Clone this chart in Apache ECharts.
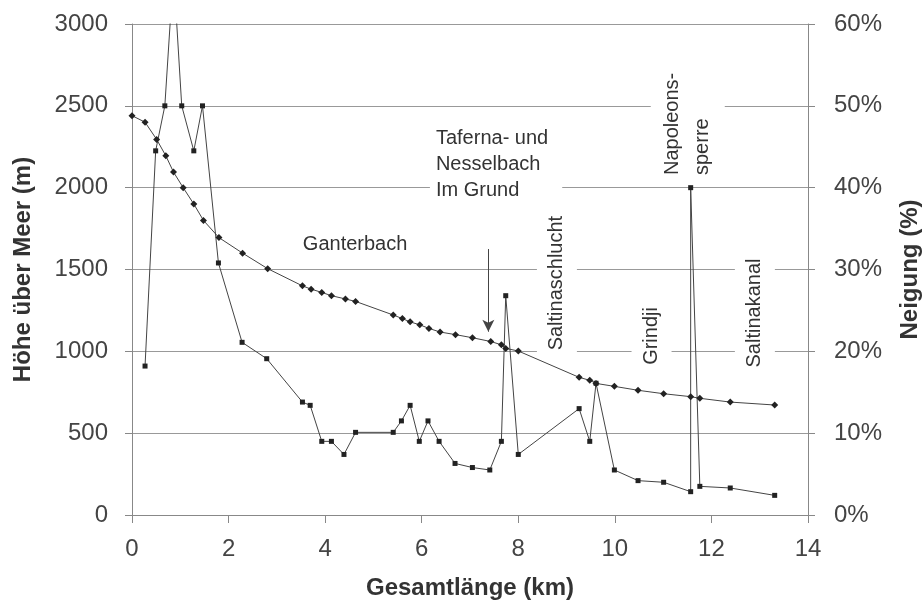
<!DOCTYPE html>
<html>
<head>
<meta charset="utf-8">
<script src="https://cdn.jsdelivr.net/npm/echarts@6/dist/echarts.min.js"></script>
<style>
	html, body { margin: 0; padding: 0; background: #fff; }
	#chart { width: 924px; height: 609px; }
</style>
</head>
<body>
<div id="chart"></div>
<script>
	// Gesamtlänge (km) der Messpunkte
	var distKm = [0, 0.27, 0.51, 0.70, 0.86, 1.06, 1.28, 1.48, 1.80, 2.29, 2.81,
		3.53, 3.71, 3.93, 4.13, 4.42, 4.63, 5.41, 5.60, 5.76, 5.96, 6.15, 6.38,
		6.70, 7.05, 7.43, 7.65, 7.74, 8.00, 9.26, 9.48, 9.61, 9.99, 10.48, 11.01,
		11.57, 11.76, 12.39, 13.31];
	// Höhe über Meer (m)
	var hoehe = [2440, 2400, 2295, 2195, 2095, 2000, 1900, 1800, 1695, 1600, 1505,
		1400, 1380, 1360, 1340, 1320, 1305, 1222, 1200, 1180, 1162, 1140, 1118,
		1102, 1083, 1060, 1040, 1018, 1002, 841, 823, 804, 786, 762, 741,
		723, 713, 690, 672];
	// Neigung (%)
	var neigDist = [0.27, 0.49, 0.68, 0.86, 1.03, 1.28, 1.46, 1.79, 2.28, 2.79,
		3.53, 3.69, 3.93, 4.13, 4.39, 4.63, 5.41, 5.58, 5.76, 5.95, 6.13, 6.36,
		6.69, 7.05, 7.41, 7.65, 7.74, 8.00, 9.26, 9.48, 9.61, 9.99, 10.48, 11.01,
		11.57, 11.57, 11.76, 12.39, 13.31];
	var neigung = [18.2, 44.5, 50, 66.5, 50, 44.5, 50, 30.8, 21.1, 19.1,
		13.8, 13.4, 9.0, 9.0, 7.4, 10.1, 10.1, 11.5, 13.4, 9.0, 11.5, 9.0,
		6.3, 5.8, 5.5, 9.0, 26.8, 7.4, 13.0, 9.0, 16.1, 5.5, 4.2, 4.0,
		2.85, 40, 3.5, 3.3, 2.4];

	// Beschriftungen: Text, Ankerpunkt (km, Höhe), gedreht, Ausrichtung
	var labelText = ['Ganterbach', 'Taferna- und\nNesselbach\nIm Grund', 'Saltinaschlucht', 'Grindji', 'Saltinakanal', 'Napoleons-\nsperre'];
	var labelKm = [4.62, 6.17, 8.80, 10.76, 12.90, 11.51];
	var labelHoehe = [1650, 2144, 1417, 1094, 1234, 2065];
	var labelRotated = [false, false, true, true, true, true];
	var labelAlign = ['center', 'left', 'center', 'center', 'center', 'left'];
	// Pfeil (km, von Höhe, bis Höhe)
	var arrowKm = 7.38, arrowFrom = 1625, arrowTo = 1120;

	var font = "'Liberation Sans', Arial, sans-serif";
	var chart = echarts.init(document.getElementById('chart'));

	var option = {
		animation: false,
		grid: { left: 132, right: 116, top: 24, bottom: 94, outerBoundsMode: 'none' },
		xAxis: {
			type: 'value', min: 0, max: 14, interval: 2,
			name: 'Gesamtlänge (km)', nameLocation: 'middle', nameGap: 61,
			nameTextStyle: { fontFamily: font, fontSize: 24, fontWeight: 'bold', color: '#333' },
			axisLine: { lineStyle: { color: '#888' } },
			axisTick: { length: 8, lineStyle: { color: '#888' } },
			axisLabel: { margin: 22, fontFamily: font, fontSize: 24, color: '#444' },
			splitLine: { show: false }
		},
		yAxis: [{
			type: 'value', min: 0, max: 3000, interval: 500, position: 'left',
			name: 'Höhe über Meer (m)', nameLocation: 'middle', nameGap: 97,
			nameTextStyle: { fontFamily: font, fontSize: 24, fontWeight: 'bold', color: '#333' },
			axisLine: { show: true, lineStyle: { color: '#888' } },
			axisTick: { show: true, length: 7, lineStyle: { color: '#888' } },
			axisLabel: { margin: 24, fontFamily: font, fontSize: 24, color: '#444',
				formatter: function (v) { return String(v); } },
			splitLine: { lineStyle: { color: '#999' } }
		}, {
			type: 'value', min: 0, max: 60, interval: 10, position: 'right',
			name: 'Neigung (%)', nameLocation: 'middle', nameGap: 90,
			nameTextStyle: { fontFamily: font, fontSize: 24, fontWeight: 'bold', color: '#333' },
			axisLine: { show: true, lineStyle: { color: '#888' } },
			axisTick: { show: true, length: 7, lineStyle: { color: '#888' } },
			axisLabel: { margin: 26, fontFamily: font, fontSize: 24, color: '#444', formatter: '{value}%' },
			splitLine: { show: false }
		}],
		series: [{
			name: 'Höhe',
			type: 'line',
			yAxisIndex: 0,
			data: distKm.map(function (d, i) { return [d, hoehe[i]]; }),
			symbol: 'diamond',
			symbolSize: 7,
			itemStyle: { color: '#222' },
			lineStyle: { color: '#444', width: 1 },
			markLine: {
				silent: true,
				symbol: ['none', 'arrow'],
				symbolSize: [9, 12],
				label: { show: false },
				lineStyle: { color: '#444', type: 'solid', width: 1 },
				data: [[{ coord: [arrowKm, arrowFrom] }, { coord: [arrowKm, arrowTo] }]]
			}
		}, {
			name: 'Neigung',
			type: 'line',
			yAxisIndex: 1,
			clip: true,
			data: neigDist.map(function (d, i) { return [d, neigung[i]]; }),
			symbol: 'rect',
			symbolSize: 5,
			itemStyle: { color: '#222' },
			lineStyle: { color: '#444', width: 1 }
		}]
	};
	chart.setOption(option);

	// Beschriftungen in Datenkoordinaten platzieren
	var graphics = labelText.map(function (txt, i) {
		var p = chart.convertToPixel({ xAxisIndex: 0, yAxisIndex: 0 }, [labelKm[i], labelHoehe[i]]);
		return {
			type: 'text',
			x: p[0], y: p[1],
			rotation: labelRotated[i] ? Math.PI / 2 : 0,
			z: 1,
			style: {
				text: txt,
				fill: '#333',
				font: '20px ' + font,
				align: labelAlign[i],
				verticalAlign: 'middle',
				lineHeight: i === 5 ? 30 : 26,
				backgroundColor: '#fff',
				padding: labelRotated[i] ? [7, 2, 7, 2] : (i === 1 ? [0, 14, 0, 6] : [0, 2, 0, 2])
			}
		};
	});
	chart.setOption({ graphic: graphics });
</script>
</body>
</html>
